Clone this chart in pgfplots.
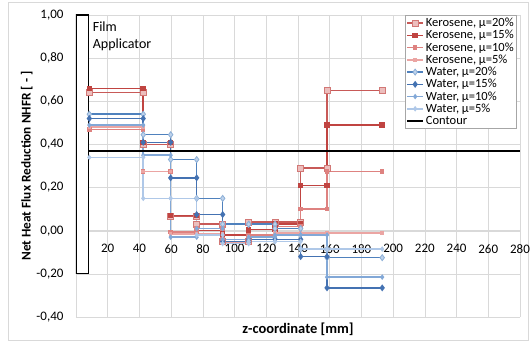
\documentclass[border=0pt]{standalone}
\usepackage{pgfplots}
\pgfplotsset{compat=1.18}
\usepackage{fontspec}
\setmainfont{Carlito}
\definecolor{kA}{RGB}{200,90,88}
\definecolor{kAf}{RGB}{236,190,189}
\definecolor{kAd}{RGB}{210,120,118}
\definecolor{kB}{RGB}{192,68,65}
\definecolor{kC}{RGB}{222,130,128}
\definecolor{kD}{RGB}{235,165,163}
\definecolor{wA}{RGB}{79,129,189}
\definecolor{wAf}{RGB}{190,210,235}
\definecolor{wAd}{RGB}{140,175,215}
\definecolor{wB}{RGB}{68,114,178}
\definecolor{wC}{RGB}{130,168,215}
\definecolor{wD}{RGB}{175,200,232}
\definecolor{gridc}{RGB}{217,217,217}
\begin{document}
\begin{tikzpicture}
\useasboundingbox (-76pt,-28pt) rectangle (454pt,317pt);
\draw[gridc, line width=0.8pt] (-68pt,-23pt) rectangle (452pt,315pt);
\begin{axis}[
  scale only axis, width=444pt, height=302pt,
  xmin=0, xmax=280, ymin=-0.4, ymax=1.0,
  axis x line=middle, axis y line=left,
  axis line style={draw=gridc, -},
  xtick={0,20,...,280}, ytick={-0.4,-0.2,0,0.2,0.4,0.6,0.8,1.0},
  grid=major, major grid style={draw=gridc, line width=0.6pt},
  major tick length=0pt,
  font=\fontsize{13}{15}\selectfont,
  /pgf/number format/assume math mode=true,
  yticklabel style={/pgf/number format/.cd, fixed, fixed zerofill, precision=2, use comma, /tikz/.cd, xshift=-9pt},
  xticklabel style={yshift=-10pt},
  xlabel={\textbf{z-coordinate [mm]}},
  ylabel={\textbf{Net Heat Flux Reduction NHFR [ - ]}},
  xlabel style={at={(rel axis cs:0.5,0)}, anchor=north, yshift=-2pt, font=\fontsize{14.5}{16}\selectfont},
  ylabel style={at={(rel axis cs:0,0.5)}, anchor=south, yshift=40pt, font=\fontsize{13.3}{16}\selectfont},
  legend style={at={(0.993,1)}, anchor=north east, draw=gray!70, fill=white,
    font=\fontsize{12.5}{13}\selectfont, row sep=-1.8pt, inner sep=1pt},
  legend cell align=left,
  legend image code/.code={\draw[mark repeat=2,mark phase=2] plot coordinates {(0pt,0pt)(8pt,0pt)(16pt,0pt)};},
  every axis plot/.append style={line width=1.5pt},
]
\addplot[kA, mark=square*, mark size=3pt, mark options={fill=kAf, draw=kAd, line width=0.8pt}] coordinates {
(8.4,0.64)(42.4,0.64)(42.4,0.40)(59.7,0.40)(59.7,0.065)(76.1,0.065)(76.1,0.03)(92.5,0.03)(92.5,-0.05)(108.9,-0.05)(108.9,0.04)(125.5,0.04)(125.5,0.04)(141.7,0.04)(141.7,0.29)(158.3,0.29)(158.3,0.65)(193.1,0.65)};
\addlegendentry{Kerosene, μ=20\%}
\addplot[kB, mark=square*, mark size=2pt, mark options={fill=kB}] coordinates {
(8.4,0.66)(42.4,0.66)(42.4,0.41)(59.7,0.41)(59.7,0.07)(76.1,0.07)(76.1,0.0)(92.5,0.0)(92.5,-0.02)(108.9,-0.02)(108.9,0.005)(125.5,0.005)(125.5,0.03)(141.7,0.03)(141.7,0.21)(158.3,0.21)(158.3,0.49)(193.1,0.49)};
\addlegendentry{Kerosene, μ=15\%}
\addplot[kC, mark=square*, mark size=1.5pt, mark options={fill=kC}] coordinates {
(8.4,0.47)(42.4,0.47)(42.4,0.275)(59.7,0.275)(59.7,-0.005)(76.1,-0.005)(76.1,0.01)(92.5,0.01)(92.5,-0.04)(108.9,-0.04)(108.9,-0.02)(125.5,-0.02)(125.5,0.02)(141.7,0.02)(141.7,0.10)(158.3,0.10)(158.3,0.275)(193.1,0.275)};
\addlegendentry{Kerosene, μ=10\%}
\addplot[kD, mark=square*, mark size=1pt, mark options={fill=kD}] coordinates {
(8.4,0.48)(42.4,0.48)(42.4,0.275)(59.7,0.275)(59.7,-0.015)(76.1,-0.015)(76.1,-0.015)(92.5,-0.015)(92.5,-0.055)(108.9,-0.055)(108.9,-0.03)(125.5,-0.03)(125.5,-0.01)(141.7,-0.01)(141.7,-0.01)(158.3,-0.01)(158.3,-0.01)(193.1,-0.01)};
\addlegendentry{Kerosene, μ=5\%}
\addplot[wA, mark=diamond*, mark size=3pt, mark options={fill=wAf, draw=wAd, line width=0.8pt}] coordinates {
(8.4,0.54)(42.4,0.54)(42.4,0.445)(59.7,0.445)(59.7,0.33)(76.1,0.33)(76.1,0.15)(92.5,0.15)(92.5,0.03)(108.9,0.03)(108.9,0.03)(125.5,0.03)(125.5,0.01)(141.7,0.01)(141.7,-0.085)(158.3,-0.085)(158.3,-0.125)(193.1,-0.125)};
\addlegendentry{Water, μ=20\%}
\addplot[wB, mark=diamond*, mark size=2.3pt, mark options={fill=wB}] coordinates {
(8.4,0.52)(42.4,0.52)(42.4,0.41)(59.7,0.41)(59.7,0.245)(76.1,0.245)(76.1,0.075)(92.5,0.075)(92.5,-0.05)(108.9,-0.05)(108.9,-0.04)(125.5,-0.04)(125.5,-0.04)(141.7,-0.04)(141.7,-0.12)(158.3,-0.12)(158.3,-0.265)(193.1,-0.265)};
\addlegendentry{Water, μ=15\%}
\addplot[wC, mark=diamond*, mark size=1.6pt, mark options={fill=wC}] coordinates {
(8.4,0.49)(42.4,0.49)(42.4,0.35)(59.7,0.35)(59.7,-0.03)(76.1,-0.03)(76.1,0.01)(92.5,0.01)(92.5,-0.04)(108.9,-0.04)(108.9,-0.03)(125.5,-0.03)(125.5,-0.02)(141.7,-0.02)(141.7,-0.02)(158.3,-0.02)(158.3,-0.215)(193.1,-0.215)};
\addlegendentry{Water, μ=10\%}
\addplot[wD, mark=diamond*, mark size=1.6pt, mark options={fill=wD}] coordinates {
(8.4,0.34)(42.4,0.34)(42.4,0.15)(59.7,0.15)(59.7,0.15)(76.1,0.15)(76.1,-0.02)(92.5,-0.02)(92.5,-0.06)(108.9,-0.06)(108.9,-0.05)(125.5,-0.05)(125.5,-0.05)(141.7,-0.05)(141.7,-0.085)(158.3,-0.085)(158.3,-0.085)(193.1,-0.085)};
\addlegendentry{Water, μ=5\%}
\addplot[black, line width=1.5pt] coordinates {(8,0.37)(280,0.37)};
\addlegendentry{Contour}
\addplot[black, line width=1.2pt, fill=white, forget plot] coordinates {(0,-0.2)(0,1.0)(8,1.0)(8,-0.2)} -- cycle;
\node[anchor=north west, align=left, font=\fontsize{14}{17.5}\selectfont, inner sep=0pt] at (axis cs:10.5,0.97) {Film\\Applicator};
\end{axis}
\end{tikzpicture}
\end{document}
